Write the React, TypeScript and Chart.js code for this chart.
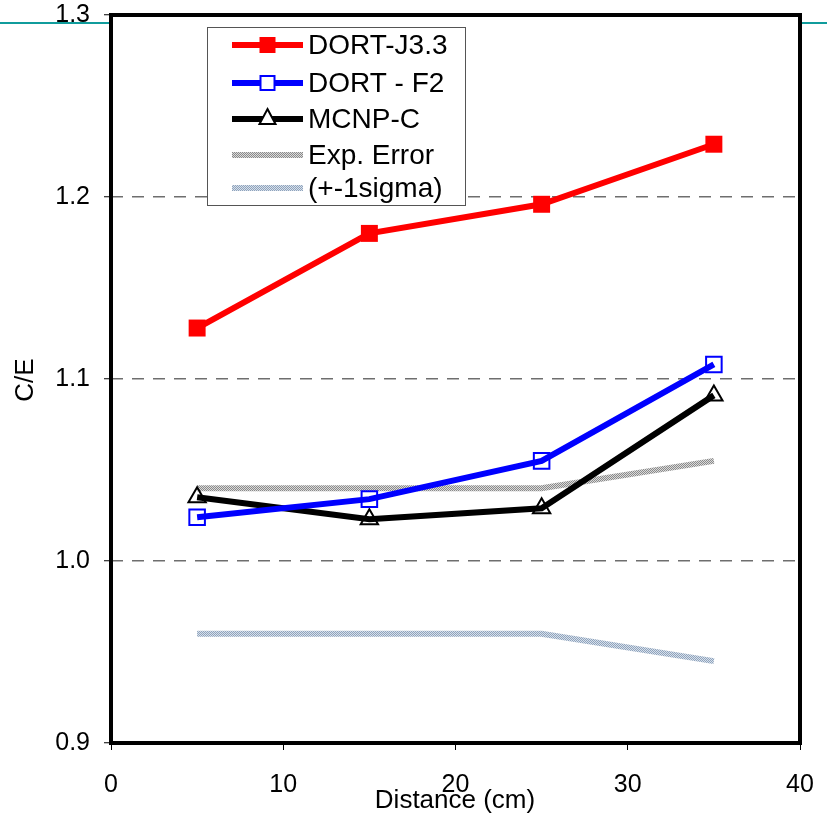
import React, { useEffect, useRef } from "react";
import { Chart, registerables } from "chart.js";

Chart.register(...registerables);

const distances = [5, 15, 25, 35];
const dortJ33 = [1.128, 1.180, 1.196, 1.229];
const dortF2 = [1.024, 1.034, 1.055, 1.108];
const mcnpC = [1.035, 1.023, 1.029, 1.091];
const expErrUpper = [1.040, 1.040, 1.040, 1.055];
const expErrLower = [0.960, 0.960, 0.960, 0.945];
const yTicks = [0.9, 1.0, 1.1, 1.2, 1.3];
const xTicks = [0, 10, 20, 30, 40];

const FONT = "'Liberation Sans', Arial, sans-serif";

function makePattern(fg: string, bg: string) {
  const c = document.createElement("canvas");
  c.width = 4;
  c.height = 4;
  const g = c.getContext("2d")!;
  g.fillStyle = bg;
  g.fillRect(0, 0, 4, 4);
  g.fillStyle = fg;
  g.fillRect(0, 0, 1, 1);
  g.fillRect(2, 0, 1, 1);
  g.fillRect(1, 1, 1, 1);
  g.fillRect(3, 1, 1, 1);
  g.fillRect(0, 2, 1, 1);
  g.fillRect(2, 2, 1, 1);
  g.fillRect(1, 3, 1, 1);
  g.fillRect(3, 3, 1, 1);
  const p = g.createPattern(c, "repeat");
  return p as CanvasPattern;
}

export default function App() {
  const ref = useRef<HTMLCanvasElement>(null);
  useEffect(() => {
    if (!ref.current) return;
    const grayPat = makePattern("#8a8a8a", "#dadada");
    const bluePat = makePattern("#8ea3bd", "#d8e0ea");

    const legendItems = [
      { label: "DORT-J3.3", color: "#ff0000", marker: "fsquare" },
      { label: "DORT - F2", color: "#0000ff", marker: "osquare" },
      { label: "MCNP-C", color: "#000000", marker: "triangle" },
      { label: "Exp. Error", color: grayPat, marker: "pattern" },
      { label: "(+-1sigma)", color: bluePat, marker: "pattern" },
    ];

    const bgPlugin = {
      id: "bg",
      beforeDraw(chart: any) {
        const { ctx, chartArea: a, width } = chart;
        ctx.save();
        ctx.fillStyle = "#ffffff";
        ctx.fillRect(0, 0, width, chart.height);
        ctx.strokeStyle = "#109c9c";
        ctx.lineWidth = 2;
        ctx.beginPath();
        ctx.moveTo(0, 23);
        ctx.lineTo(width, 23);
        ctx.stroke();
        ctx.fillStyle = "#ffffff";
        ctx.fillRect(a.left, a.top, a.right - a.left, a.bottom - a.top);
        ctx.restore();
      },
      afterDraw(chart: any) {
        const { ctx, chartArea: a } = chart;
        ctx.save();
        // frame
        ctx.strokeStyle = "#000";
        ctx.lineWidth = 4;
        ctx.strokeRect(a.left, a.top, a.right - a.left, a.bottom - a.top);
        // titles
        ctx.fillStyle = "#000";
        ctx.font = `26px ${FONT}`;
        ctx.textAlign = "center";
        ctx.textBaseline = "middle";
        ctx.fillText("Distance (cm)", 455, 801);
        ctx.translate(26, 380);
        ctx.rotate(-Math.PI / 2);
        ctx.fillText("C/E", 0, 0);
        ctx.restore();

        // legend
        ctx.save();
        const bx = 207, by = 27, bw = 258, bh = 178;
        ctx.fillStyle = "#fff";
        ctx.fillRect(bx, by, bw, bh);
        ctx.strokeStyle = "#555";
        ctx.lineWidth = 1;
        ctx.strokeRect(bx + 0.5, by + 0.5, bw, bh);
        const rows = [45, 83, 119, 155, 188];
        legendItems.forEach((it, i) => {
          const y = rows[i];
          const x0 = 232, x1 = 303, xm = (x0 + x1) / 2;
          ctx.lineWidth = 6;
          ctx.strokeStyle = it.color as any;
          ctx.beginPath();
          ctx.moveTo(x0, y);
          ctx.lineTo(x1, y);
          ctx.stroke();
          if (it.marker === "fsquare") {
            ctx.fillStyle = it.color as string;
            ctx.fillRect(xm - 8, y - 8, 16, 16);
          } else if (it.marker === "osquare") {
            ctx.fillStyle = "#fff";
            ctx.fillRect(xm - 7, y - 7, 14, 14);
            ctx.lineWidth = 2;
            ctx.strokeRect(xm - 7, y - 7, 14, 14);
          } else if (it.marker === "triangle") {
            ctx.fillStyle = "#fff";
            ctx.lineWidth = 2;
            ctx.beginPath();
            ctx.moveTo(xm, y - 10);
            ctx.lineTo(xm + 8, y + 5);
            ctx.lineTo(xm - 8, y + 5);
            ctx.closePath();
            ctx.fill();
            ctx.stroke();
          }
          ctx.fillStyle = "#000";
          ctx.font = `28px ${FONT}`;
          ctx.textAlign = "left";
          ctx.textBaseline = "middle";
          ctx.fillText(it.label, 308, y + 1);
        });
        ctx.restore();
      },
    };

    const toPts = (ys: number[]) => distances.map((x, i) => ({ x, y: ys[i] }));

    const chart = new Chart(ref.current, {
      type: "scatter",
      data: {
        datasets: [
          {
            label: "Exp. Error",
            data: toPts(expErrUpper),
            showLine: true,
            borderColor: grayPat as any,
            borderWidth: 6,
            pointRadius: 0,
            order: 5,
          },
          {
            label: "(+-1sigma)",
            data: toPts(expErrLower),
            showLine: true,
            borderColor: bluePat as any,
            borderWidth: 6,
            pointRadius: 0,
            order: 4,
          },
          {
            label: "MCNP-C",
            data: toPts(mcnpC),
            showLine: true,
            borderColor: "#000000",
            borderWidth: 6,
            pointStyle: "triangle",
            pointRadius: 10,
            pointBorderWidth: 2,
            pointBorderColor: "#000000",
            pointBackgroundColor: "rgba(255,255,255,0)",
            order: 3,
          },
          {
            label: "DORT - F2",
            data: toPts(dortF2),
            showLine: true,
            borderColor: "#0000ff",
            borderWidth: 6,
            pointStyle: "rect",
            pointRadius: 11,
            pointBorderWidth: 2,
            pointBorderColor: "#0000ff",
            pointBackgroundColor: "rgba(255,255,255,0)",
            order: 2,
          },
          {
            label: "DORT-J3.3",
            data: toPts(dortJ33),
            showLine: true,
            borderColor: "#ff0000",
            borderWidth: 6,
            pointStyle: "rect",
            pointRadius: 12,
            pointBorderWidth: 0,
            pointBackgroundColor: "#ff0000",
            order: 1,
          },
        ],
      },
      options: {
        animation: false,
        responsive: false,
        layout: { padding: { top: 15, right: 27, left: 0, bottom: 0 } },
        plugins: { legend: { display: false }, tooltip: { enabled: false } },
        scales: {
          x: {
            type: "linear",
            min: 0,
            max: 40,
            afterBuildTicks: (s: any) => {
              s.ticks = xTicks.map((v) => ({ value: v }));
            },
            afterFit: (s: any) => {
              s.height = 74;
              s.paddingLeft = 0;
              s.paddingRight = 0;
            },
            ticks: {
              color: "#000",
              font: { family: FONT, size: 25 },
              padding: 20,
              maxRotation: 0,
            },
            grid: {
              drawOnChartArea: false,
              tickLength: 7,
              tickColor: "#000",
              tickWidth: 1,
            },
            border: { display: false },
          },
          y: {
            type: "linear",
            min: 0.9,
            max: 1.3,
            afterBuildTicks: (s: any) => {
              s.ticks = yTicks.map((v) => ({ value: v }));
            },
            afterFit: (s: any) => {
              s.width = 111;
              s.paddingTop = 0;
              s.paddingBottom = 0;
            },
            ticks: {
              color: "#000",
              font: { family: FONT, size: 25 },
              padding: 14,
              callback: (v: any) => Number(v).toFixed(1),
            },
            grid: {
              color: (c: any) => {
                const v = c.tick ? c.tick.value : 0;
                return v > 0.95 && v < 1.25 ? "#6e6e6e" : "rgba(0,0,0,0)";
              },
              lineWidth: 1.5,
              tickLength: 7,
              tickColor: "#000",
              tickWidth: 1,
              tickBorderDash: [],
            },
            border: { display: false, dash: [12, 9] },
          },
        },
      },
      plugins: [bgPlugin],
    });
    return () => chart.destroy();
  }, []);

  return (
    <div style={{ position: "fixed", left: 0, top: 0, width: 827, height: 817 }}>
      <canvas ref={ref} width={827} height={817} style={{ display: "block" }} />
    </div>
  );
}
